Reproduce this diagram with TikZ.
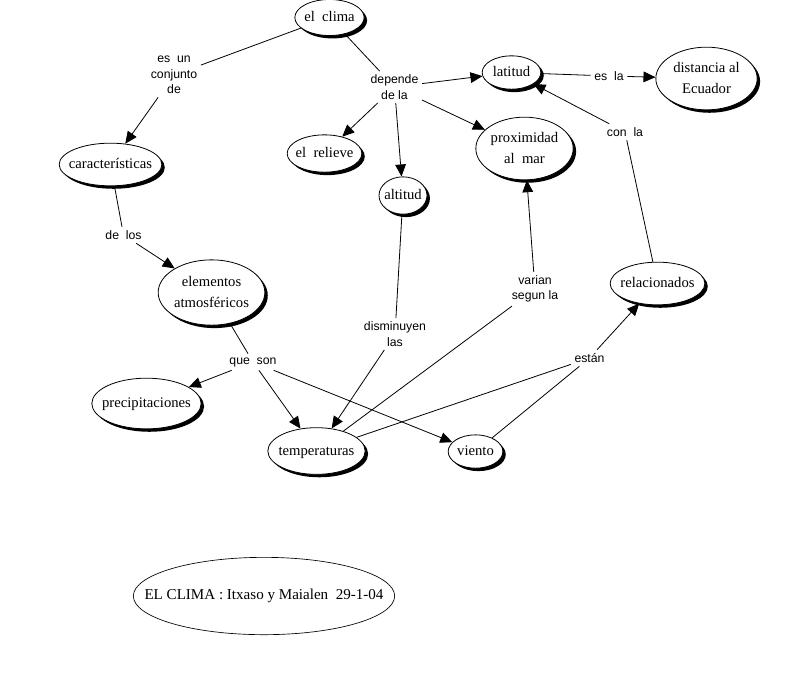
\documentclass[tikz,border=0pt]{standalone}
\usepackage{fontspec}
\setmainfont{Liberation Serif}
\newfontfamily\linkfont{Liberation Sans}
\usetikzlibrary{shapes.geometric, shadows, arrows.meta}
\newcommand{\ctext}[1]{\makebox[0pt]{\begin{tabular}{@{}c@{}}#1\end{tabular}}}

\begin{document}
\begin{tikzpicture}[x=0.75pt, y=-0.75pt, >={Triangle[length=9pt, width=8pt]},
        concept/.style 2 args={draw, ellipse, fill=white, line width=0.6pt, inner sep=0pt,
            minimum width=#1, minimum height=#2, font=\fontsize{11}{16}\selectfont,
            drop shadow={shadow xshift=2.2pt, shadow yshift=-2.2pt, fill=black, opacity=1}},
        link/.style={font=\linkfont\fontsize{9.2}{11.5}\selectfont, align=center, inner sep=2.5pt},
        every path/.append style={line width=0.6pt}]
                \useasboundingbox (0, 0) rectangle (798, 676);

                % Nodes
                \node[concept={52pt}{27pt}] at (329.5, 17.5) (clima) {\ctext{el~ clima}};
                \node[concept={77pt}{32pt}] at (110.5, 164.5) (caract) {\ctext{características}};
                \node[concept={56pt}{28pt}] at (324.5, 153.5) (relieve) {\ctext{el~ relieve}};
                \node[concept={36pt}{28pt}] at (403, 195.5) (altitud) {\ctext{altitud}};
                \node[concept={44pt}{25pt}] at (511.5, 72.5) (latitud) {\ctext{latitud}};
                \node[concept={76pt}{47pt}] at (706.5, 78.5) (distancia) {\ctext{distancia al\\Ecuador}};
                \node[concept={73pt}{47pt}] at (524.5, 148.5) (proximidad) {\ctext{proximidad\\al~ mar}};
                \node[concept={71pt}{32pt}] at (657.5, 283.5) (relac) {\ctext{relacionados}};
                \node[concept={41pt}{25pt}] at (475.5, 451.5) (viento) {\ctext{viento}};
                \node[concept={80pt}{49pt}] at (211.5, 292.5) (elementos) {\ctext{elementos\\atmosféricos}};
                \node[concept={82pt}{38pt}] at (146.5, 403.5) (precip) {\ctext{precipitaciones}};
                \node[concept={73pt}{35pt}] at (316.5, 451) (temp) {\ctext{temperaturas}};

                % Link labels
                \node[link] at (174, 75) (esun) {es~ un\\conjunto\\de};
                \node[link] at (394.5, 87) (depende) {depende\\de la};
                \node[link] at (609, 76) (esla) {es~ la};
                \node[link] at (625, 132) (conla) {con~ la};
                \node[link] at (123.5, 235) (delos) {de~ los};
                \node[link] at (395, 334) (dismin) {disminuyen\\las};
                \node[link] at (535, 289) (varian) {varian\\segun la};
                \node[link] at (253, 362) (queson) {que~ son};
                \node[link] at (589.5, 358) (estan) {están};

                % Title
                \node[draw, ellipse, line width=0.5pt, minimum width=196pt, minimum height=58pt,
                    font=\fontsize{11.3}{13}\selectfont] at (264, 596) (titulo) {\ctext{EL CLIMA : Itxaso y Maialen~ 29-1-04}};

                % Edges
                \draw (clima) -- (esun);
                \draw[->] (esun) -- (caract);
                \draw (clima) -- (depende);
                \draw[->] (depende) -- (latitud);
                \draw[->] (depende) -- (relieve);
                \draw[->] (depende) -- (altitud);
                \draw[->] (depende) -- (proximidad);
                \draw (latitud) -- (esla);
                \draw[->] (esla) -- (distancia);
                \draw (relac) -- (conla);
                \draw[->] (conla) -- (latitud);
                \draw (caract) -- (delos);
                \draw[->] (delos) -- (elementos);
                \draw (elementos) -- (queson);
                \draw[->] (queson) -- (precip);
                \draw[->] (queson) -- (temp);
                \draw[->] (queson) -- (viento);
                \draw (altitud) -- (dismin);
                \draw[->] (dismin) -- (temp);
                \draw (temp) -- (varian);
                \draw[->] (varian) -- (proximidad);
                \draw (temp) -- (estan);
                \draw (viento) -- (estan);
                \draw[->] (estan) -- (relac);
\end{tikzpicture}
\end{document}
